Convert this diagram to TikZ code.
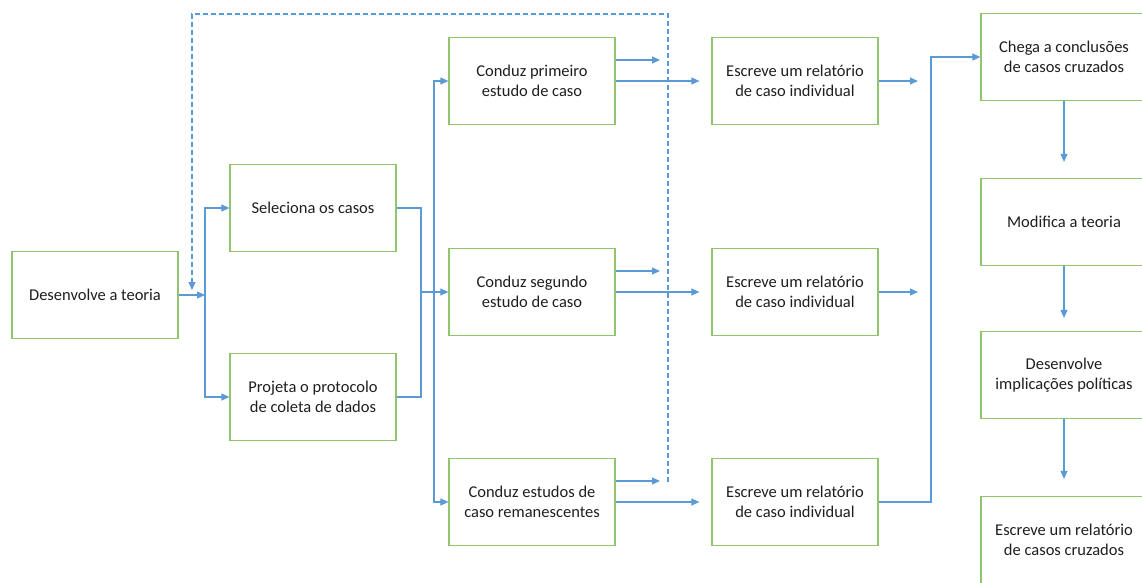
\documentclass[tikz,border=0pt]{standalone}
\usepackage{fontspec}
\setmainfont{Carlito}
\usetikzlibrary{arrows.meta}
\definecolor{boxgreen}{RGB}{146,196,110}
\definecolor{linkblue}{RGB}{91,155,213}
\definecolor{textgray}{RGB}{30,30,30}
\begin{document}
\begin{tikzpicture}[x=1pt,y=-1pt]

    \tikzset{
      stage/.style={
        draw=boxgreen,
        line width=1.2pt,
        minimum width=166pt,
        minimum height=87pt,
        align=center,
        text=textgray,
        font=\fontsize{16.5}{19.5}\selectfont,
      },
      link/.style={
        draw=linkblue,
        line width=1.1pt,
        -{Triangle[length=8pt,width=7pt]},
      },
      plain/.style={
        draw=linkblue,
        line width=1.1pt,
      },
      feedback/.style={
        link,
        dash pattern=on 5pt off 3pt,
      },
    }
    \useasboundingbox (0,0) rectangle (1142,583);

	% left part
	\node[stage] (teoria) at (95,295) {Desenvolve a teoria};
	\node[stage] (sel) at (313,208) {Seleciona os casos};
	\node[stage] (proj) at (313,397) {Projeta o protocolo\\de coleta de dados};
	% case studies
	\node[stage] (prim) at (532,81) {Conduz primeiro\\estudo de caso};
	\node[stage] (seg) at (532,292) {Conduz segundo\\estudo de caso};
	\node[stage] (rem) at (532,502) {Conduz estudos de\\caso remanescentes};
	% individual reports
	\node[stage] (escprim) at (795,81) {Escreve um relatório\\de caso individual};
	\node[stage] (escseg) at (795,292) {Escreve um relatório\\de caso individual};
	\node[stage] (escrem) at (795,502) {Escreve um relatório\\de caso individual};
	% cross-case column
	\node[stage] (chega) at (1064,57) {Chega a conclusões\\de casos cruzados};
	\node[stage] (modif) at (1064,222) {Modifica a teoria};
	\node[stage] (impl) at (1064,375) {Desenvolve\\implicações políticas};
	\node[stage] (cruz) at (1064,540) {Escreve um relatório\\de casos cruzados};

	\coordinate (busA) at (205,295);
	\coordinate (busB) at (421,292);
	\coordinate (busC) at (434,292);
	\coordinate (busD) at (931,57);
	\coordinate (fbBot) at (668,482);
	\coordinate (fbTop) at (668,14);
	\coordinate (fbEnd) at (192,290);

	\draw[link] (teoria.east) -- (busA);
	\draw[link] (busA) |- (sel.west);
	\draw[link] (busA) |- (proj.west);
	\draw[plain] (sel.east) -| (busB) |- (proj.east);
	\draw[link] (busB) -- (seg.west);
	\draw[link] (busC) |- (prim.west);
	\draw[link] (busC) |- (rem.west);

	\foreach \n in {prim,seg,rem}{
	  \draw[link,shorten >=8pt] ([yshift=21pt]\n.east) -- ([yshift=21pt]\n.east -| fbBot);
	  \draw[link,shorten >=12pt] (\n.east) -- (esc\n.west);
	}
	\draw[feedback] (fbBot) -- (fbTop) -| (fbEnd);

	\draw[link,shorten >=13pt] (escprim.east) -- (escprim.east -| busD);
	\draw[link,shorten >=13pt] (escseg.east) -- (escseg.east -| busD);
	\draw[link] (escrem.east) -| (busD) -- (chega.west);

	\draw[link,shorten >=16pt] (chega.south) -- (modif.north);
	\draw[link,shorten >=13pt] (modif.south) -- (impl.north);
	\draw[link,shorten >=17pt] (impl.south) -- (cruz.north);

\end{tikzpicture}
\end{document}
